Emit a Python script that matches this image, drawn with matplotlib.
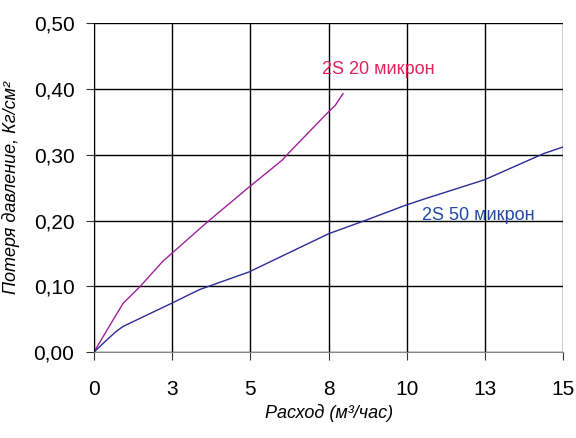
import matplotlib
matplotlib.use("Agg")
import matplotlib.pyplot as plt

plt.rcParams["font.family"] = ["Liberation Sans Narrow", "Liberation Sans", "DejaVu Sans"]

# 2S 20 micron curve
flow_20 = [0, 0.4, 0.93, 1.46, 2.2, 3.63, 4.96, 6.02, 6.23, 7.45, 7.71, 7.96]
loss_20 = [0, 0.032, 0.074, 0.099, 0.138, 0.198, 0.251, 0.292, 0.303, 0.363, 0.375, 0.393]

# 2S 50 micron curve
flow_50 = [0, 0.4, 0.7, 0.93, 1.5, 2.47, 3.37, 4.96, 7.5, 8.66, 9.94, 10.57, 12.48, 14.38, 15.0]
loss_50 = [0, 0.018, 0.031, 0.039, 0.052, 0.074, 0.095, 0.122, 0.18, 0.2, 0.223, 0.233, 0.262, 0.302, 0.312]

x_ticks = [0, 2.5, 5, 7.5, 10, 12.5, 15]
x_labels = ["0", "3", "5", "8", "10", "13", "15"]
y_ticks = [0, 0.1, 0.2, 0.3, 0.4, 0.5]
y_labels = ["0,00", "0,10", "0,20", "0,30", "0,40", "0,50"]

fig = plt.figure(figsize=(5.76, 4.38), dpi=100)
ax = fig.add_axes([0.163, 0.196, 0.815, 0.751])

ax.plot(flow_20, loss_20, color="#A0209E", lw=1)
ax.plot(flow_50, loss_50, color="#2B2B9A", lw=1)

ax.text(7.28, 0.43, "2S 20 микрон", color="#E0245A", fontsize=13, va="center")
ax.text(10.5, 0.208, "2S 50 микрон", color="#2148A8", fontsize=13, va="center")

ax.set_xlim(0, 15)
ax.set_ylim(0, 0.5)
ax.set_xticks(x_ticks)
ax.set_xticklabels(x_labels)
ax.set_yticks(y_ticks)
ax.set_yticklabels(y_labels)
ax.tick_params(labelsize=15, length=6, color="#333333", pad=14)
ax.tick_params(axis="y", pad=8)
ax.grid(True, color="black", lw=1)
for s in ["top", "right"]:
    ax.spines[s].set_visible(False)
ax.spines["bottom"].set_color("#888888")
ax.spines["left"].set_color("black")

ax.set_xlabel("Расход (м³/час)", fontsize=13, style="italic", labelpad=4)
ax.set_ylabel("Потеря давление, Кг/см²", fontsize=13, style="italic", labelpad=10)

fig.savefig("out.png", dpi=100)
